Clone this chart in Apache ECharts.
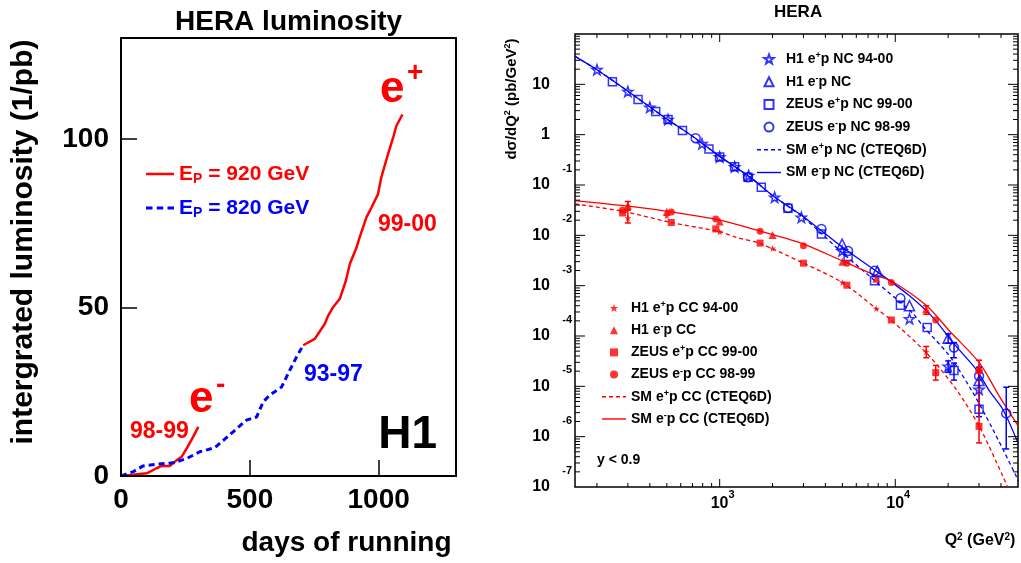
<!DOCTYPE html>
<html><head><meta charset="utf-8">
<script src="https://cdn.jsdelivr.net/npm/echarts@6.0.0/dist/echarts.min.js"></script>
<style>html,body{margin:0;padding:0;background:#fff}#wrap{position:relative;width:1021px;height:563px}#c,#ov{position:absolute;left:0;top:0;width:1021px;height:563px}#ov{pointer-events:none}</style>
</head><body><div id="wrap"><div id="c"></div><div id="ov"></div></div>
<script>
// ---------- Left panel: H1 integrated luminosity (days, 1/pb) ----------
const lumi9899 = [[0,0],[100,0.8],[138,2.3],[158,3.0],[190,3.0],[216,4.7],[235,5.7],[255,8.2],[280,11.6],[300,14.6]];
const lumi9397 = [[0,0],[48,1.3],[86,3.0],[138,3.5],[203,3.9],[255,5.2],[306,7.2],[364,8.4],[390,10.1],[435,13.1],[487,16.6],[526,17.5],[552,22.0],[577,24.0],[623,26.4],[655,31.4],[681,35.3],[707,38.8]];
const lumi9900 = [[707,38.8],[752,40.7],[791,45.2],[804,47.6],[823,50.1],[849,52.6],[872,57.8],[888,62.9],[914,67.8],[926,70.8],[952,76.7],[972,79.7],[997,83.6],[1010,88.6],[1036,95.5],[1056,100.4],[1068,103.8],[1092,107.3]];

// ---------- Right panel: NC / CC cross sections [Q2, dsigma/dQ2] ----------
const ncH1Pos   = [[200,19.5],[300,7.2],[400,3.5],[508,2.0],[793,0.66],[1000,0.36],[1217,0.23],[1462,0.154],[2055,0.057],[2919,0.0228],[4980,0.0049],[12050,2.2e-4],[20000,2.5e-5],[30000,8.7e-6]];
const ncH1Neg   = [[4980,0.0067],[7900,0.00195],[12050,4.0e-4],[20000,9.0e-5],[30000,1.3e-5]];
const ncZeusPos = [[245,11.2],[343,5.0],[432,2.9],[508,2.0],[614,1.21],[869,0.52],[1000,0.36],[1217,0.23],[1449,0.143],[1726,0.09],[2449,0.0345],[3797,0.0106],[5386,0.0038],[7621,0.00125],[10700,4.1e-4],[15200,1.47e-4],[21600,2.07e-5],[30000,3.5e-6]];
const ncZeusNeg = [[730,0.85],[1449,0.143],[2449,0.035],[3797,0.0134],[5386,0.0049],[7621,0.00197],[10700,5.6e-4],[21600,5.9e-5],[30000,1.6e-5],[42850,2.9e-6]];
const ccH1Pos   = [[300,0.022],[500,0.0245],[1000,0.0118],[2000,0.0055],[5000,0.00116],[7800,3.5e-4],[15000,4.9e-5]];
const ccH1Neg   = [[300,0.039],[500,0.0295],[1000,0.0188],[2000,0.0101],[5000,0.0030],[7800,0.00138],[15000,3.4e-4],[30000,2.4e-5]];
const ccZeusPos = [[280,0.0278],[530,0.018],[950,0.0134],[1700,0.0070],[3000,0.0028],[5300,0.00102],[9500,2.08e-4],[17000,1.87e-5],[30000,1.6e-6]];
const ccZeusNeg = [[280,0.032],[530,0.0292],[950,0.0211],[1700,0.0120],[3000,0.0062],[5300,0.0028],[9500,0.00116],[17000,2.08e-4],[30000,2.0e-5]];
// Standard Model curves (CTEQ6D)
const smNCneg = [[150,36],[200,19.5],[300,7.3],[500,2.05],[700,0.93],[1000,0.37],[1500,0.14],[2000,0.062],[3000,0.0235],[5000,0.0058],[7943,0.00186],[12050,6.3e-4],[16370,2.34e-4],[21730,6.8e-5],[28900,2.17e-5],[34440,8.0e-6],[41020,3.47e-6],[50000,7.5e-7]];
const smNCpos = [[150,36],[200,19.5],[300,7.3],[500,2.05],[700,0.93],[1000,0.37],[1500,0.14],[2000,0.062],[3000,0.0225],[5000,0.0045],[7943,0.00112],[12590,2.8e-4],[14350,1.58e-4],[20370,4.0e-5],[27670,7.5e-6],[35970,1.39e-6],[48870,1.63e-7],[50000,1.3e-7]];
const smCCneg = [[150,0.049],[300,0.038],[500,0.030],[1000,0.0200],[1700,0.0121],[3000,0.0067],[5000,0.0031],[7800,0.00157],[9460,0.00125],[15140,3.96e-4],[20370,1.26e-4],[30060,2.95e-5],[39080,6.4e-6],[48870,1.88e-6],[50000,1.6e-6]];
const smCCpos = [[150,0.042],[280,0.030],[530,0.018],[1000,0.0118],[1245,0.0091],[1675,0.0070],[3000,0.0028],[4980,0.00116],[7800,3.5e-4],[9460,2.08e-4],[15000,4.67e-5],[22230,8.7e-6],[30060,1.61e-6],[41020,1.63e-7],[43650,1.0e-7]];
// error bars [Q2, low, high]
const errBlue = [[42850,5.7e-7,9.6e-6],[30000,2.5e-6,2.4e-5],[21600,3.7e-5,7.4e-5],[21600,1.33e-5,2.9e-5],[20000,7.2e-5,1.1e-4],[20000,1.9e-5,3.2e-5]];
const errRed  = [[300,0.0176,0.032],[300,0.032,0.047],[30000,7.5e-7,3.3e-5],[17000,1.33e-5,2.6e-5],[15000,3.7e-5,6.2e-5],[15000,2.7e-4,4.0e-4]];
// axis ticks of the log panel
const xMajorTicks = [1000, 10000];
const xMinorTicks = [200,300,400,500,600,700,800,900,2000,3000,4000,5000,6000,7000,8000,9000,20000,30000,40000];
const yMajorTicks = [1e-6,1e-5,1e-4,1e-3,1e-2,1e-1,1,10];
const yMinorTicks = [];
for (let k = -7; k <= 1; k++) for (let m = 2; m <= 9; m++) yMinorTicks.push(+(m * Math.pow(10, k)).toPrecision(3));

const F = 'Liberation Sans, Arial, Helvetica, sans-serif';
function ts(size, extra) { return Object.assign({fontFamily: F, fontSize: size, fontWeight: 'bold', color: '#000'}, extra || {}); }
const RED = '#ff0000', BLUE = '#0000ff';
const STAR = 'path://M0,-10 L2.35,-3.24 L9.51,-3.09 L3.80,1.24 L5.88,8.09 L0,4 L-5.88,8.09 L-3.80,1.24 L-9.51,-3.09 L-2.35,-3.24 Z';
const ICON_SOLID = 'path://M0,0h24v1.4h-24z';
const ICON_DASH = 'path://M0,0h4v1.4h-4z M7,0h4v1.4h-4z M14,0h4v1.4h-4z M21,0h3v1.4h-3z';
const ICON_TRI = 'path://M5,0L10,10L0,10Z';
const ICON_SQ = 'path://M0,0h10v10h-10Z';

function supName(name) {
  return '{t|' + name.replace(/e([+-])p/, '}{t|e}{sp|$1}{t|p') + '}';
}
const legRich = {
  t: ts(14, {lineHeight: 16}),
  sp: ts(9, {lineHeight: 9, verticalAlign: 'top', padding: [0, 0, 10, 0]})
};

// tick descriptors: [value, kind]; kind 1/2 = x major/minor, 3/4 = y major/minor
const tickData = [];
xMajorTicks.forEach(v => tickData.push([v, 1]));
xMinorTicks.forEach(v => tickData.push([v, 2]));
yMajorTicks.forEach(v => tickData.push([v, 3]));
yMinorTicks.forEach(v => tickData.push([v, 4]));

function tickItem(params, api) {
  const v = api.value(0), kind = api.value(1);
  const cs = params.coordSys;
  const st = {stroke: '#000', lineWidth: 1};
  const len = [8, 4, 10, 5][kind - 1];
  if (kind <= 2) {
    const px = api.coord([v, 1])[0];
    return {type: 'group', children: [
      {type: 'line', shape: {x1: px, y1: cs.y + cs.height, x2: px, y2: cs.y + cs.height - len}, style: st},
      {type: 'line', shape: {x1: px, y1: cs.y, x2: px, y2: cs.y + len}, style: st}]};
  }
  const py = api.coord([1000, v])[1];
  return {type: 'group', children: [
    {type: 'line', shape: {x1: cs.x, y1: py, x2: cs.x + len, y2: py}, style: st},
    {type: 'line', shape: {x1: cs.x + cs.width, y1: py, x2: cs.x + cs.width - len, y2: py}, style: st}]};
}
function errItem(params, api) {
  const x = api.value(0);
  const p1 = api.coord([x, api.value(1)]), p2 = api.coord([x, api.value(2)]);
  const st = {stroke: api.visual('color'), lineWidth: 1.5};
  return {type: 'group', children: [
    {type: 'line', shape: {x1: p1[0], y1: p1[1], x2: p2[0], y2: p2[1]}, style: st},
    {type: 'line', shape: {x1: p1[0] - 3, y1: p1[1], x2: p1[0] + 3, y2: p1[1]}, style: st},
    {type: 'line', shape: {x1: p2[0] - 3, y1: p2[1], x2: p2[0] + 3, y2: p2[1]}, style: st}]};
}

function scat(name, data, symbol, size, color, open) {
  return {name, type: 'scatter', xAxisIndex: 1, yAxisIndex: 1, data, symbol, symbolSize: size, z: 4, silent: true,
    itemStyle: open ? {color: 'rgba(255,255,255,0)', borderColor: color, borderWidth: 1.5} : {color: color}};
}
function sm(name, data, color, dashed) {
  return {name, type: 'line', xAxisIndex: 1, yAxisIndex: 1, data, symbol: 'none', smooth: 0.3, z: 3, silent: true,
    color: color, lineStyle: {color: color, width: 1.3, type: dashed ? [4, 3] : 'solid'}};
}
const NC = ['H1 e+p NC 94-00','H1 e-p NC','ZEUS e+p NC 99-00','ZEUS e-p NC 98-99','SM e+p NC (CTEQ6D)','SM e-p NC (CTEQ6D)'];
const CC = ['H1 e+p CC 94-00','H1 e-p CC','ZEUS e+p CC 99-00','ZEUS e-p CC 98-99','SM e+p CC (CTEQ6D)','SM e-p CC (CTEQ6D)'];
function legData(names) {
  const icons = [null, ICON_TRI, ICON_SQ, null, ICON_DASH, ICON_SOLID];
  return names.map((n, i) => icons[i] ? {name: n, icon: icons[i]} : {name: n});
}
function lumiTick() { return {show: true, inside: true, length: 16, lineStyle: {color: '#000', width: 1.5}}; }
function lumiLine() { return {show: true, onZero: false, lineStyle: {color: '#000', width: 2}}; }
const LUMI_GRID = {left: 121, top: 38, width: 335, height: 438};

const chart = echarts.init(document.getElementById('c'), null, {renderer: 'canvas'});
chart.setOption({
  animation: false,
  backgroundColor: '#fff',
  title: [
    {text: 'HERA luminosity', left: 175, top: 8, padding: 0, textStyle: ts(28)},
    {text: 'HERA', left: 774, top: 4, padding: 0, textStyle: ts(17)}
  ],
  grid: [
    Object.assign({show: true, borderColor: '#000', borderWidth: 2, backgroundColor: 'transparent'}, LUMI_GRID),
    {left: 575, top: 34, width: 443, height: 453, show: true, borderColor: '#000', borderWidth: 1.5, backgroundColor: 'transparent'}
  ],
  xAxis: [
    {gridIndex: 0, type: 'value', position: 'bottom', min: 0, max: 1300, interval: 500, axisLine: lumiLine(), splitLine: {show: false}, axisTick: lumiTick(),
     axisLabel: Object.assign(ts(28), {margin: 10, showMaxLabel: false, formatter: v => String(v)}),
     name: 'days of running', nameLocation: 'middle', nameGap: 53, nameTextStyle: ts(28, {padding: [0, 0, 0, 116]})},
    {gridIndex: 1, type: 'log', logBase: 10, min: 150, max: 50000, axisLine: {show: false, onZero: false}, splitLine: {show: false}, axisTick: {show: false},
     axisLabel: {margin: 7, showMinLabel: false, showMaxLabel: false,
       formatter: function (v) { const l = Math.log10(v), k = Math.round(l); if (Math.abs(l - k) > 1e-6) return ''; return '{xb|10}{xe|' + k + '}'; },
       rich: {xb: ts(16, {padding: [0, 0, 0, 6], lineHeight: 18, verticalAlign: 'bottom'}),
              xe: ts(11, {lineHeight: 11, padding: [0, 0, 12, 0], verticalAlign: 'bottom'})}},
     name: '{q|Q}{qs|2}{q| (GeV}{qs|2}{q|)}', nameLocation: 'middle', nameGap: 45,
     nameTextStyle: {padding: [0, 0, 0, 367], rich: {q: ts(16, {lineHeight: 18}), qs: ts(10, {lineHeight: 10, verticalAlign: 'top'})}}}
  ],
  yAxis: [
    {gridIndex: 0, type: 'value', position: 'left', min: 0, max: 130, interval: 50, axisLine: lumiLine(), splitLine: {show: false}, axisTick: lumiTick(),
     axisLabel: Object.assign(ts(28), {margin: 12, showMaxLabel: false})},
    {gridIndex: 1, type: 'log', logBase: 10, min: 1e-7, max: 100, axisLine: {show: false, onZero: false}, splitLine: {show: false}, axisTick: {show: false},
     axisLabel: {margin: 3, showMaxLabel: false,
       formatter: function (v) { const k = Math.round(Math.log10(v)); if (k === 0) return '{b|1}'; if (k === 1) return '{b|10}'; return '{e|' + k + '}\n{b|10}\n{e| }'; },
       rich: {b: ts(16, {padding: [0, 22, 0, 0], lineHeight: 18, align: 'right'}), e: ts(11, {lineHeight: 14, align: 'right'})}}}
  ],
  legend: [
    {left: 141, top: 151, orient: 'vertical', itemWidth: 28, itemHeight: 14, itemGap: 4, selectedMode: false, symbolKeepAspect: true,
     data: [{name: 'EP = 920 GeV', icon: 'path://M0,0h28v2.5h-28z'}, {name: 'EP = 820 GeV', icon: 'path://M0,0h6v3h-6z M10,0h6v3h-6z M20,0h6v3h-6z'}],
     formatter: function (n) { return n.indexOf('920') >= 0 ? '{r|E}{rs|P}{r| = 920 GeV}' : '{b|E}{bs|P}{b| = 820 GeV}'; },
     textStyle: {rich: {
       r: ts(21, {color: RED, lineHeight: 24}), rs: ts(14, {color: RED, lineHeight: 14, padding: [16, 0, 0, 0], verticalAlign: 'bottom'}),
       b: ts(21, {color: BLUE, lineHeight: 24}), bs: ts(14, {color: BLUE, lineHeight: 14, padding: [16, 0, 0, 0], verticalAlign: 'bottom'})}}},
    {left: 752, top: 46, orient: 'vertical', itemWidth: 24, itemHeight: 9, itemGap: 3.7, selectedMode: false, symbolKeepAspect: true,
     data: legData(NC), formatter: supName, textStyle: {rich: legRich}},
    {left: 597, top: 295, orient: 'vertical', itemWidth: 24, itemHeight: 8, itemGap: 3.2, selectedMode: false, symbolKeepAspect: true,
     data: legData(CC), formatter: supName, textStyle: {rich: legRich}}
  ],
  graphic: {elements: [
    {type: 'text', x: 24, y: 242, rotation: Math.PI / 2, style: {text: 'intergrated luminosity (1/pb)', align: 'center', verticalAlign: 'middle', fill: '#000', fontFamily: F, fontSize: 30, fontWeight: 'bold'}},
    {type: 'text', x: 512, y: 99, rotation: Math.PI / 2, style: {text: '{a|dσ/dQ}{s|2}{a| (pb/GeV}{s|2}{a|)}', align: 'center', verticalAlign: 'middle',
      rich: {a: {fontFamily: F, fontSize: 15, fontWeight: 'bold', fill: '#000', lineHeight: 17}, s: {fontFamily: F, fontSize: 9, fontWeight: 'bold', fill: '#000', lineHeight: 9, verticalAlign: 'top'}}}},
    {type: 'text', x: 380, y: 90, style: {text: 'e', fill: RED, fontFamily: F, fontSize: 44, fontWeight: 'bold', verticalAlign: 'middle'}},
    {type: 'text', x: 407, y: 73, style: {text: '+', fill: RED, fontFamily: F, fontSize: 28, fontWeight: 'bold', verticalAlign: 'middle'}},
    {type: 'text', x: 378, y: 225, style: {text: '99-00', fill: RED, fontFamily: F, fontSize: 23, fontWeight: 'bold', verticalAlign: 'middle'}},
    {type: 'text', x: 189, y: 400, style: {text: 'e', fill: RED, fontFamily: F, fontSize: 44, fontWeight: 'bold', verticalAlign: 'middle'}},
    {type: 'text', x: 216, y: 385, style: {text: '-', fill: RED, fontFamily: F, fontSize: 28, fontWeight: 'bold', verticalAlign: 'middle'}},
    {type: 'text', x: 130, y: 432, style: {text: '98-99', fill: RED, fontFamily: F, fontSize: 23, fontWeight: 'bold', verticalAlign: 'middle'}},
    {type: 'text', x: 304, y: 375, style: {text: '93-97', fill: BLUE, fontFamily: F, fontSize: 23, fontWeight: 'bold', verticalAlign: 'middle'}},
    {type: 'text', x: 437, y: 435, style: {text: 'H1', fill: '#000', fontFamily: F, fontSize: 46, fontWeight: 'bold', align: 'right', verticalAlign: 'middle'}},
    {type: 'text', x: 597, y: 460, style: {text: 'y < 0.9', fill: '#000', fontFamily: F, fontSize: 14, fontWeight: 'bold', verticalAlign: 'middle'}}
  ]},
  series: [
    {name: 'EP = 920 GeV', type: 'line', xAxisIndex: 0, yAxisIndex: 0, data: lumi9899, symbol: 'none', silent: true, color: RED, lineStyle: {color: RED, width: 2.5}},
    {name: 'EP = 920 GeV', type: 'line', xAxisIndex: 0, yAxisIndex: 0, data: lumi9900, symbol: 'none', silent: true, color: RED, lineStyle: {color: RED, width: 2.5}},
    {name: 'EP = 820 GeV', type: 'line', xAxisIndex: 0, yAxisIndex: 0, data: lumi9397, symbol: 'none', silent: true, color: BLUE, lineStyle: {color: BLUE, width: 3, type: [6, 4]}},
    sm(NC[4], smNCpos, BLUE, true),
    sm(NC[5], smNCneg, BLUE, false),
    sm(CC[4], smCCpos, RED, true),
    sm(CC[5], smCCneg, RED, false),
    scat(NC[0], ncH1Pos, STAR, 10, BLUE, true),
    scat(NC[1], ncH1Neg, 'triangle', 10, BLUE, true),
    scat(NC[2], ncZeusPos, 'rect', 8, BLUE, true),
    scat(NC[3], ncZeusNeg, 'circle', 9, BLUE, true),
    scat(CC[0], ccH1Pos, STAR, 7, RED, false),
    scat(CC[1], ccH1Neg, 'triangle', 8, RED, false),
    scat(CC[2], ccZeusPos, 'rect', 7, RED, false),
    scat(CC[3], ccZeusNeg, 'circle', 7, RED, false),
    {type: 'custom', xAxisIndex: 1, yAxisIndex: 1, data: errBlue, encode: {x: 0, y: [1, 2]}, renderItem: errItem, itemStyle: {color: BLUE}, z: 4, silent: true},
    {type: 'custom', xAxisIndex: 1, yAxisIndex: 1, data: errRed, encode: {x: 0, y: [1, 2]}, renderItem: errItem, itemStyle: {color: RED}, z: 4, silent: true},
    {type: 'custom', xAxisIndex: 1, yAxisIndex: 1, data: tickData, renderItem: tickItem, z: 5, silent: true, clip: false}
  ]
});

// Transparent overlay instance: frame ticks of the luminosity panel on all four sides,
// from the same axis ranges as the panel underneath.
const ov = echarts.init(document.getElementById('ov'), null, {renderer: 'canvas'});
function ovAxis(pos, isX) {
  return Object.assign({gridIndex: (pos === 'top' || pos === 'right') ? 1 : 0, type: 'value', position: pos,
    min: 0, max: isX ? 1300 : 130, interval: isX ? 500 : 50,
    axisLine: {show: true, onZero: false, lineStyle: {color: '#000', width: 2}},
    axisTick: lumiTick(), axisLabel: {show: false}, splitLine: {show: false}});
}
ov.setOption({
  animation: false,
  backgroundColor: 'transparent',
  grid: [Object.assign({show: false}, LUMI_GRID), Object.assign({show: false}, LUMI_GRID)],
  xAxis: [ovAxis('bottom', true), ovAxis('top', true)],
  yAxis: [ovAxis('left', false), ovAxis('right', false)],
  series: [
    {type: 'line', xAxisIndex: 0, yAxisIndex: 0, data: lumi9899, symbol: 'none', silent: true, lineStyle: {opacity: 0}},
    {type: 'line', xAxisIndex: 1, yAxisIndex: 1, data: lumi9899, symbol: 'none', silent: true, lineStyle: {opacity: 0}}
  ]
});
</script>
</body></html>
